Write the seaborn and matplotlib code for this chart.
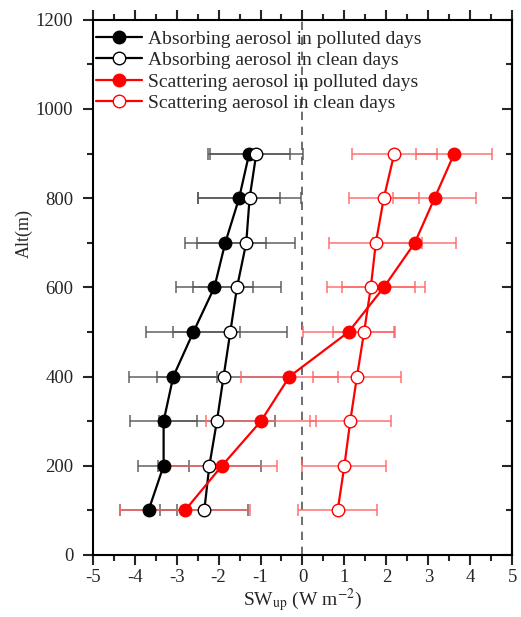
import matplotlib
matplotlib.use("Agg")
import matplotlib.pyplot as plt
import seaborn as sns
from matplotlib.ticker import MultipleLocator

# altitude levels (m)
alt = [100, 200, 300, 400, 500, 600, 700, 800, 900]

# SW_up values (W m-2)
abs_pol = [-3.67, -3.31, -3.31, -3.08, -2.60, -2.10, -1.84, -1.51, -1.27]
abs_pol_err = [0.68, 0.60, 0.79, 1.05, 1.12, 0.91, 0.97, 0.97, 0.98]
abs_cln = [-2.34, -2.22, -2.04, -1.88, -1.72, -1.56, -1.34, -1.26, -1.10]
abs_cln_err = [1.05, 1.23, 1.39, 1.59, 1.36, 1.05, 1.17, 1.22, 1.11]
sca_pol = [-2.80, -1.92, -0.99, -0.31, 1.10, 1.94, 2.68, 3.15, 3.62]
sca_pol_err = [1.55, 1.31, 1.31, 1.15, 1.09, 0.99, 0.99, 0.98, 0.91]
sca_cln = [0.84, 1.00, 1.14, 1.30, 1.47, 1.63, 1.75, 1.94, 2.19]
sca_cln_err = [0.94, 1.00, 0.97, 1.05, 0.73, 1.05, 1.11, 0.84, 1.01]

labels = ["Absorbing aerosol in polluted days",
          "Absorbing aerosol in clean days",
          "Scattering aerosol in polluted days",
          "Scattering aerosol in clean days"]

sns.set_style("ticks")
plt.rcParams['font.family'] = ['Liberation Serif', 'DejaVu Serif']
plt.rcParams['mathtext.fontset'] = 'stix'

fig = plt.figure(figsize=(5.21, 6.17), dpi=100)
ax = fig.add_axes([0.178, 0.1005, 0.805, 0.8675])

ax.axvline(0, color='#555555', linestyle=(0, (5, 4)), linewidth=1.2, zorder=1)

series = [
    (abs_pol, abs_pol_err, 'black', 'black', '#555555', labels[0]),
    (abs_cln, abs_cln_err, 'black', 'white', '#555555', labels[1]),
    (sca_pol, sca_pol_err, 'red', 'red', '#ff6666', labels[2]),
    (sca_cln, sca_cln_err, 'red', 'white', '#ff6666', labels[3]),
]

for vals, err, col, face, ecol, lab in series:
    ax.errorbar(vals, alt, xerr=err, fmt='none', ecolor=ecol, elinewidth=1.2,
                capsize=4, capthick=1.2, alpha=0.85, zorder=2)
    sns.lineplot(x=vals, y=alt, orient='y', sort=False, ax=ax, color=col,
                 linewidth=1.6, marker='o', markersize=9,
                 markerfacecolor=face, markeredgecolor=col,
                 markeredgewidth=1.0, label=lab, zorder=3)

ax.set_xlim(-5, 5)
ax.set_ylim(0, 1200)
ax.xaxis.set_major_locator(MultipleLocator(1))
ax.xaxis.set_minor_locator(MultipleLocator(0.5))
ax.yaxis.set_major_locator(MultipleLocator(200))
ax.yaxis.set_minor_locator(MultipleLocator(100))

for s in ax.spines.values():
    s.set_visible(True)
    s.set_linewidth(1.5)
    s.set_color('black')

ax.tick_params(axis='x', which='both', direction='out', top=True, bottom=True,
               labelsize=13.5, width=1.5, pad=3)
ax.tick_params(axis='y', which='both', direction='out', left=True, right=False,
               labelsize=13.5, width=1.5, pad=7)
ax.tick_params(which='major', length=7)
ax.tick_params(which='minor', length=4)

# right axis ticks point inward
sec = ax.secondary_yaxis('right')
sec.yaxis.set_major_locator(MultipleLocator(200))
sec.yaxis.set_minor_locator(MultipleLocator(100))
sec.tick_params(which='both', direction='in', labelright=False, width=1.5)
sec.tick_params(which='major', length=7)
sec.tick_params(which='minor', length=4)
sec.spines['right'].set_linewidth(1.5)

ax.set_xticklabels([f"{int(t)}" for t in ax.get_xticks()])
ax.set_xlabel(r"SW$_{\mathrm{up}}$ (W m$^{\mathrm{-2}}$)", fontsize=14, labelpad=0)
ax.set_ylabel("Alt(m)", fontsize=13)
ax.yaxis.set_label_coords(-0.143, 0.60)

ax.legend(loc='upper left', frameon=False, fontsize=14, handlelength=2.4,
          handletextpad=0.3, labelspacing=0.2, borderaxespad=0.0,
          borderpad=0.25, bbox_to_anchor=(-0.005, 0.99))

plt.savefig('out.png', dpi=100)
plt.close()
